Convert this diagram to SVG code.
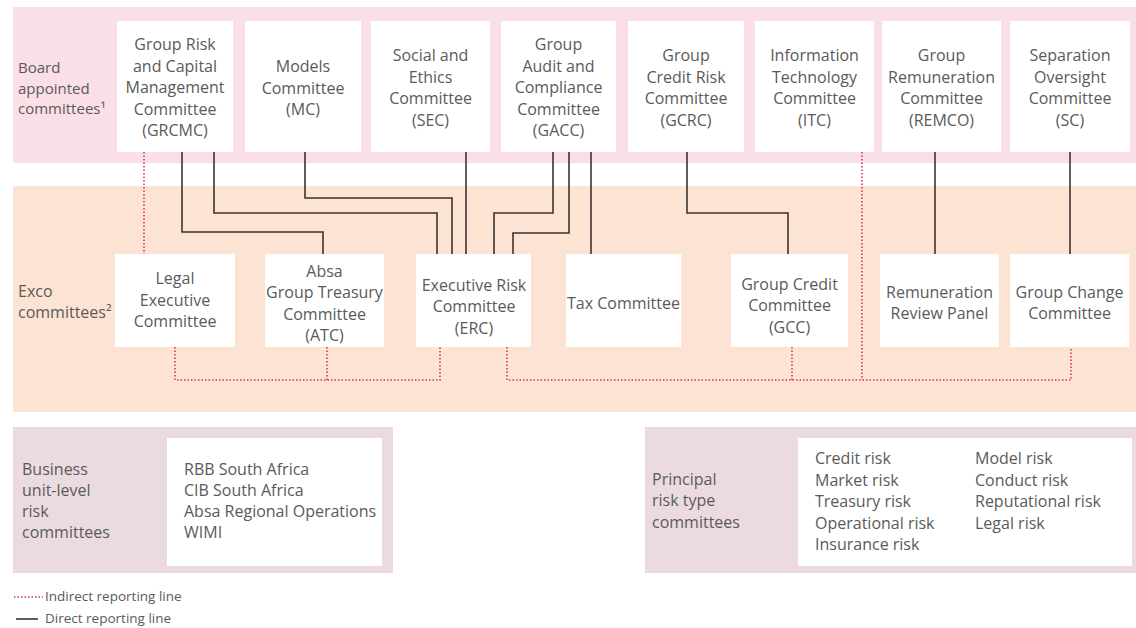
<svg xmlns="http://www.w3.org/2000/svg" width="1136" height="628" viewBox="0 0 1136 628">
  <style>
    text { font-family: "Open Sans", "Noto Sans", "Liberation Sans", sans-serif; font-size: 16px; fill: #5a5a5a; }
    .c { text-anchor: middle; }
    .lbl { font-size: 15px; }
    .box { fill: #ffffff; }
    .direct { fill: none; stroke: #3b3333; stroke-width: 1.6; }
    .indirect { fill: none; stroke: #d4375c; stroke-width: 1.6; stroke-dasharray: 1.5 2; }
  </style>

  <!-- background bands -->
  <rect x="0" y="0" width="1136" height="628" fill="#ffffff"/>
  <rect x="13" y="7" width="1123" height="156" fill="#fbdfe6"/>
  <rect x="13" y="186" width="1123" height="226" fill="#fce3d3"/>
  <rect x="13" y="427" width="380" height="146" fill="#ebdbe1"/>
  <rect x="645" y="427" width="491" height="146" fill="#ebdbe1"/>

  <!-- band labels -->
  <g id="label-board">
    <text class="lbl" x="18" y="73">Board</text>
    <text class="lbl" x="18" y="93.5">appointed</text>
    <text class="lbl" x="18" y="114">committees¹</text>
  </g>
  <g id="label-exco">
    <text x="18" y="297">Exco</text>
    <text x="18" y="318">committees²</text>
  </g>

  <!-- connectors -->
  <g id="connectors">
    <path class="direct" d="M182,152 V232 H323 V254"/>
    <path class="direct" d="M214,152 V213 H437 V254"/>
    <path class="direct" d="M305,152 V198 H452 V254"/>
    <path class="direct" d="M466,152 V254"/>
    <path class="direct" d="M553,152 V213 H494 V254"/>
    <path class="direct" d="M569,152 V233 H513 V254"/>
    <path class="direct" d="M591,152 V254"/>
    <path class="direct" d="M687,152 V213 H788 V254"/>
    <path class="direct" d="M935,152 V254"/>
    <path class="direct" d="M1070,152 V254"/>

    <path class="indirect" d="M144,152 V254"/>
    <path class="indirect" d="M175,347 V380 H440 V347"/>
    <path class="indirect" d="M327,347 V380"/>
    <path class="indirect" d="M507,347 V380 H1071 V347"/>
    <path class="indirect" d="M792,347 V380"/>
    <path class="indirect" d="M862,152 V380"/>
  </g>

  <!-- board appointed committees -->
  <g id="grcmc">
    <rect class="box" x="117" y="21" width="116" height="131"/>
    <text class="c" x="175" y="50">Group Risk</text>
    <text class="c" x="175" y="71.5">and Capital</text>
    <text class="c" x="175" y="93">Management</text>
    <text class="c" x="175" y="114.5">Committee</text>
    <text class="c" x="175" y="136">(GRCMC)</text>
  </g>
  <g id="mc">
    <rect class="box" x="245" y="21" width="116" height="131"/>
    <text class="c" x="303" y="72">Models</text>
    <text class="c" x="303" y="93.5">Committee</text>
    <text class="c" x="303" y="115">(MC)</text>
  </g>
  <g id="sec">
    <rect class="box" x="371" y="21" width="119" height="131"/>
    <text class="c" x="430.5" y="61">Social and</text>
    <text class="c" x="430.5" y="82.5">Ethics</text>
    <text class="c" x="430.5" y="104">Committee</text>
    <text class="c" x="430.5" y="125.5">(SEC)</text>
  </g>
  <g id="gacc">
    <rect class="box" x="501" y="21" width="115" height="131"/>
    <text class="c" x="558.5" y="50">Group</text>
    <text class="c" x="558.5" y="71.5">Audit and</text>
    <text class="c" x="558.5" y="93">Compliance</text>
    <text class="c" x="558.5" y="114.5">Committee</text>
    <text class="c" x="558.5" y="136">(GACC)</text>
  </g>
  <g id="gcrc">
    <rect class="box" x="628" y="21" width="116" height="131"/>
    <text class="c" x="686" y="61">Group</text>
    <text class="c" x="686" y="82.5">Credit Risk</text>
    <text class="c" x="686" y="104">Committee</text>
    <text class="c" x="686" y="125.5">(GCRC)</text>
  </g>
  <g id="itc">
    <rect class="box" x="755" y="21" width="119" height="131"/>
    <text class="c" x="814.5" y="61">Information</text>
    <text class="c" x="814.5" y="82.5">Technology</text>
    <text class="c" x="814.5" y="104">Committee</text>
    <text class="c" x="814.5" y="125.5">(ITC)</text>
  </g>
  <g id="remco">
    <rect class="box" x="882" y="21" width="119" height="131"/>
    <text class="c" x="941.5" y="61">Group</text>
    <text class="c" x="941.5" y="82.5">Remuneration</text>
    <text class="c" x="941.5" y="104">Committee</text>
    <text class="c" x="941.5" y="125.5">(REMCO)</text>
  </g>
  <g id="sc">
    <rect class="box" x="1010" y="21" width="120" height="131"/>
    <text class="c" x="1070" y="61">Separation</text>
    <text class="c" x="1070" y="82.5">Oversight</text>
    <text class="c" x="1070" y="104">Committee</text>
    <text class="c" x="1070" y="125.5">(SC)</text>
  </g>

  <!-- exco committees -->
  <g id="legal">
    <rect class="box" x="115" y="254" width="120" height="93"/>
    <text class="c" x="175" y="284">Legal</text>
    <text class="c" x="175" y="305.5">Executive</text>
    <text class="c" x="175" y="327">Committee</text>
  </g>
  <g id="atc">
    <rect class="box" x="265" y="254" width="119" height="93"/>
    <text class="c" x="324.5" y="276.5">Absa</text>
    <text class="c" x="324.5" y="298">Group Treasury</text>
    <text class="c" x="324.5" y="319.5">Committee</text>
    <text class="c" x="324.5" y="341">(ATC)</text>
  </g>
  <g id="erc">
    <rect class="box" x="416" y="254" width="115" height="93"/>
    <text class="c" x="474" y="290.5">Executive Risk</text>
    <text class="c" x="474" y="312">Committee</text>
    <text class="c" x="474" y="333.5">(ERC)</text>
  </g>
  <g id="tax">
    <rect class="box" x="566" y="254" width="115" height="93"/>
    <text class="c" x="623.5" y="308.5">Tax Committee</text>
  </g>
  <g id="gcc">
    <rect class="box" x="731" y="254" width="117" height="93"/>
    <text class="c" x="789.5" y="289.5">Group Credit</text>
    <text class="c" x="789.5" y="311">Committee</text>
    <text class="c" x="789.5" y="332.5">(GCC)</text>
  </g>
  <g id="rrp">
    <rect class="box" x="880" y="254" width="119" height="93"/>
    <text class="c" x="939.5" y="297.5">Remuneration</text>
    <text class="c" x="939.5" y="319">Review Panel</text>
  </g>
  <g id="gchange">
    <rect class="box" x="1010" y="254" width="119" height="93"/>
    <text class="c" x="1069.5" y="297.5">Group Change</text>
    <text class="c" x="1069.5" y="319">Committee</text>
  </g>

  <!-- business unit-level risk committees -->
  <g id="business-units">
    <text x="22" y="475">Business</text>
    <text x="22" y="496">unit-level</text>
    <text x="22" y="517">risk</text>
    <text x="22" y="538">committees</text>
    <rect class="box" x="167" y="438" width="215" height="128"/>
    <text x="184" y="475">RBB South Africa</text>
    <text x="184" y="496">CIB South Africa</text>
    <text x="184" y="517">Absa Regional Operations</text>
    <text x="184" y="538">WIMI</text>
  </g>

  <!-- principal risk type committees -->
  <g id="principal-risk">
    <text x="652" y="485">Principal</text>
    <text x="652" y="506">risk type</text>
    <text x="652" y="528">committees</text>
    <rect class="box" x="798" y="438" width="334" height="128"/>
    <text x="815" y="464">Credit risk</text>
    <text x="815" y="486">Market risk</text>
    <text x="815" y="507">Treasury risk</text>
    <text x="815" y="529">Operational risk</text>
    <text x="815" y="550">Insurance risk</text>
    <text x="975" y="464">Model risk</text>
    <text x="975" y="486">Conduct risk</text>
    <text x="975" y="507">Reputational risk</text>
    <text x="975" y="529">Legal risk</text>
  </g>

  <!-- legend -->
  <g id="legend">
    <line class="indirect" x1="14" y1="597" x2="43" y2="597"/>
    <text x="45" y="601" style="font-size:13.5px">Indirect reporting line</text>
    <line class="direct" x1="16" y1="619" x2="38" y2="619"/>
    <text x="45" y="623" style="font-size:13.5px">Direct reporting line</text>
  </g>
</svg>
